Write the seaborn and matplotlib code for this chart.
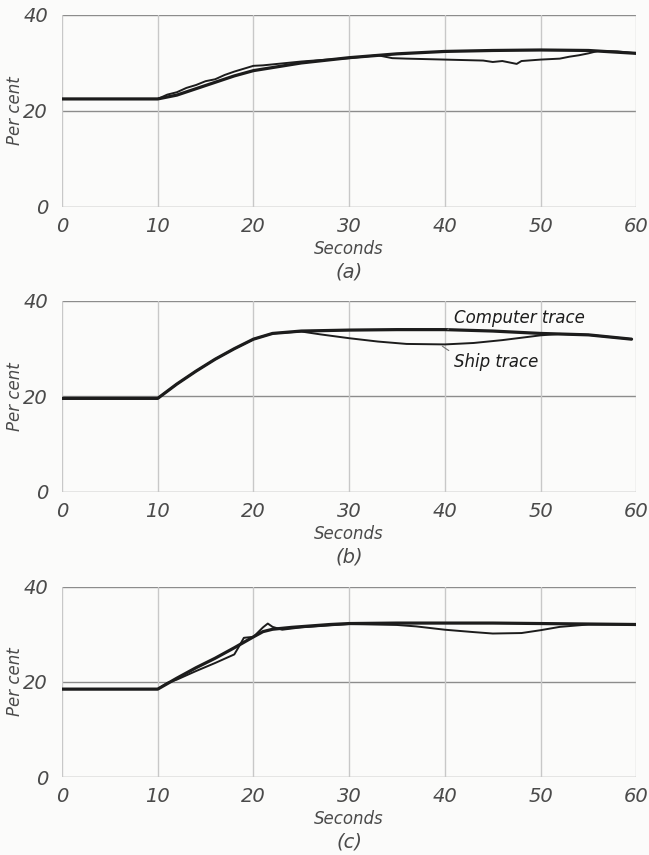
import numpy as np
import pandas as pd
import matplotlib
matplotlib.use("Agg")
import matplotlib.pyplot as plt
import seaborn as sns

# Dados (tempo em segundos, valor em por cento)
t_comp_a = [0, 10, 12, 15, 18, 20, 25, 30, 35, 40, 45, 50, 55, 60]
v_comp_a = [22.5, 22.5, 23.3, 25.3, 27.3, 28.4, 30.0, 31.1, 31.9, 32.4, 32.6, 32.7, 32.6, 32.0]
t_ship_a = [0, 10, 11, 12, 13, 14, 15, 16, 17, 18, 19, 20, 21, 22, 23, 25, 27, 30, 33, 34.5,
            36, 38, 40, 42, 44, 45, 46, 47, 47.5, 48, 50, 52, 53, 54, 55, 56, 58, 60]
v_ship_a = [22.5, 22.5, 23.4, 23.9, 24.8, 25.4, 26.2, 26.6, 27.5, 28.2, 28.8, 29.4, 29.5, 29.7,
            29.9, 30.3, 30.6, 31.0, 31.6, 31.0, 30.9, 30.8, 30.7, 30.6, 30.5, 30.2, 30.4, 30.0,
            29.8, 30.4, 30.7, 30.9, 31.3, 31.6, 32.0, 32.5, 32.4, 32.0]

t_comp_b = [0, 10, 12, 14, 16, 18, 20, 22, 25, 30, 35, 40, 45, 50, 55, 59.5]
v_comp_b = [19.6, 19.6, 22.6, 25.3, 27.8, 30.0, 32.0, 33.2, 33.7, 33.9, 34.0, 34.0, 33.7, 33.2, 32.9, 32.0]
t_ship_b = [0, 10, 12, 14, 16, 18, 20, 22, 25, 27, 30, 33, 36, 40, 43, 46, 50, 52, 55, 59.5]
v_ship_b = [19.6, 19.6, 22.6, 25.3, 27.8, 30.0, 32.0, 33.2, 33.6, 33.0, 32.2, 31.5, 31.0, 30.9,
            31.2, 31.8, 32.8, 33.1, 32.9, 32.0]

t_comp_c = [0, 10, 12, 14, 16, 18, 20, 21, 22, 24, 26, 28, 30, 35, 40, 45, 50, 55, 60]
v_comp_c = [18.5, 18.5, 20.8, 23.0, 25.0, 27.2, 29.5, 30.6, 31.1, 31.5, 31.8, 32.1, 32.3, 32.4,
            32.4, 32.4, 32.3, 32.2, 32.1]
t_ship_c = [0, 10, 11, 12, 14, 16, 18, 18.5, 19, 20, 21, 21.5, 22, 23, 25, 30, 35, 37, 40, 43,
            45, 48, 50, 52, 55, 60]
v_ship_c = [18.5, 18.5, 19.8, 20.5, 22.3, 24.0, 25.8, 27.5, 29.3, 29.5, 31.5, 32.3, 31.6, 31.0,
            31.5, 32.2, 32.0, 31.7, 31.0, 30.5, 30.2, 30.3, 30.9, 31.6, 32.1, 32.1]

x_ticks = [0, 10, 20, 30, 40, 50, 60]
y_ticks = [0, 20, 40]
panel_labels = ["(a)", "(b)", "(c)"]

panels = [
    (t_comp_a, v_comp_a, t_ship_a, v_ship_a),
    (t_comp_b, v_comp_b, t_ship_b, v_ship_b),
    (t_comp_c, v_comp_c, t_ship_c, v_ship_c),
]

sns.set_theme(style="white")
plt.rcParams["font.family"] = ["DejaVu Sans"]

ink = "#1c1c1c"
txt = "#4a4a4a"

fig = plt.figure(figsize=(6.49, 8.55), dpi=100)
fig.patch.set_facecolor("#fbfbfa")

# posições dos eixos (em fração da figura)
boxes = [
    [0.0955, 0.758, 0.885, 0.2245],
    [0.0955, 0.4246, 0.885, 0.2234],
    [0.0955, 0.0912, 0.885, 0.2223],
]

for i, (tc, vc, ts, vs) in enumerate(panels):
    ax = fig.add_axes(boxes[i])
    ax.set_facecolor("#fbfbfa")
    df_c = pd.DataFrame({"t": tc, "v": vc})
    df_s = pd.DataFrame({"t": ts, "v": vs})
    sns.lineplot(data=df_s, x="t", y="v", ax=ax, color=ink, lw=1.4, estimator=None, sort=False)
    sns.lineplot(data=df_c, x="t", y="v", ax=ax, color=ink, lw=2.3, estimator=None, sort=False)

    ax.set_xlim(0, 60)
    ax.set_ylim(0, 40)
    ax.set_xticks(x_ticks)
    ax.set_yticks(y_ticks)
    ax.set_xticklabels([str(x) for x in x_ticks], fontstyle="italic", fontsize=14, color=txt)
    ax.set_yticklabels([str(y) for y in y_ticks], fontstyle="italic", fontsize=14, color=txt)
    ax.tick_params(axis="x", length=0, pad=7)
    ax.tick_params(axis="y", length=9, width=1, color="#888888", pad=1)

    for s in ax.spines.values():
        s.set_visible(False)
    for y in y_ticks:
        ax.axhline(y, color="#8c8c8c", lw=1, zorder=0)
    for x in x_ticks:
        ax.axvline(x, color="#c8c8c8", lw=1, zorder=0)

    ax.set_xlabel("")
    ax.set_ylabel("")
    ax.annotate("Per cent", xy=(0, 0.5), xycoords="axes fraction", xytext=(-34, 0),
                textcoords="offset points", rotation=90, ha="center", va="center",
                fontstyle="italic", fontsize=12, color=txt)
    ax.annotate("Seconds", xy=(0.5, 0), xycoords="axes fraction", xytext=(0, -30),
                textcoords="offset points", ha="center", va="center",
                fontstyle="italic", fontsize=12, color=txt)
    ax.annotate(panel_labels[i], xy=(0.5, 0), xycoords="axes fraction", xytext=(0, -47),
                textcoords="offset points", ha="center", va="center",
                fontstyle="italic", fontsize=14, color=txt)

    if i == 1:
        ax.annotate("Computer trace", xy=(40.3, 34.0), xytext=(41.0, 36.4),
                    ha="left", va="center", fontstyle="italic", fontsize=12, color=ink,
                    arrowprops=dict(arrowstyle="-", color="#777777", lw=0.8,
                                    connectionstyle="arc3,rad=0.2"))
        ax.annotate("Ship trace", xy=(39.5, 30.9), xytext=(41.0, 27.3),
                    ha="left", va="center", fontstyle="italic", fontsize=12, color=ink,
                    arrowprops=dict(arrowstyle="-", color="#777777", lw=0.8,
                                    connectionstyle="arc3,rad=-0.2"))

fig.savefig("out.png", dpi=100, facecolor=fig.get_facecolor())
plt.close(fig)
